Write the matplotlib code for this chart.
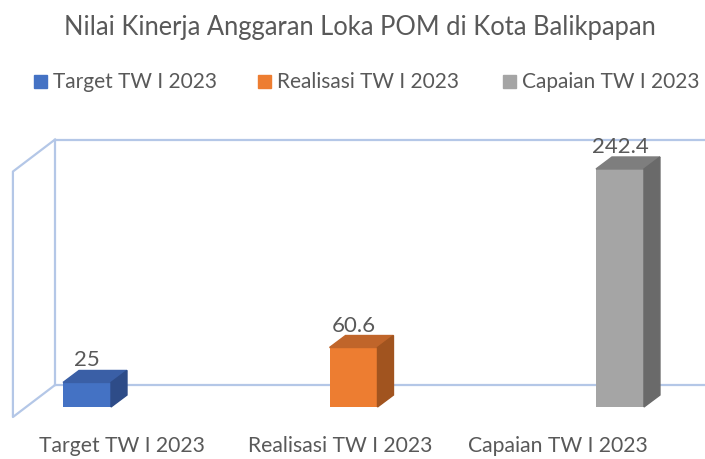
import matplotlib
matplotlib.use("Agg")
import matplotlib.pyplot as plt
from matplotlib.patches import Polygon, Rectangle

plt.rcParams['font.family'] = ['Lato', 'DejaVu Sans']

categories = ["Target TW I 2023", "Realisasi TW I 2023", "Capaian TW I 2023"]
values = [25, 60.6, 242.4]
front_colors = ["#4472C4", "#ED7D31", "#A5A5A5"]
top_colors = ["#3A5FA6", "#C0652A", "#7E7E7E"]
side_colors = ["#2E4C88", "#A1541F", "#6A6A6A"]
title = "Nilai Kinerja Anggaran Loka POM di Kota Balikpapan"
y_max = 250

text_color = "#595959"
wall_color = "#B4C7E7"

fig = plt.figure(figsize=(7.05, 4.6), dpi=100)
ax = fig.add_axes([0, 0, 1, 1])
ax.set_xlim(-0.3265, 2.319)
ax.set_ylim(-52.95, 415.5)
ax.axis("off")

# oblique 3d look: bar depth and wall depth
bar_w = 0.18
bdx, bdy = 0.06, 12.2
floor_x, floor_y = -0.278, -10.2
wdx, wdy = 0.158, 32.6
back_x, back_y = floor_x + wdx, floor_y + wdy

# walls
lw = 1.6
for gy in (0, y_max):
    ax.plot([back_x, 2.5], [back_y + gy, back_y + gy], color=wall_color, lw=lw, zorder=1)
ax.plot([back_x, back_x], [back_y, back_y + y_max], color=wall_color, lw=lw, zorder=1)
ax.plot([back_x, floor_x, floor_x, back_x],
        [back_y, floor_y, floor_y + y_max, back_y + y_max],
        color=wall_color, lw=lw, zorder=1)

xs = list(range(len(values)))
ax.bar(xs, values, width=bar_w, color=front_colors, zorder=3)
for x, v, tc, sc in zip(xs, values, top_colors, side_colors):
    l, r = x - bar_w / 2, x + bar_w / 2
    ax.add_patch(Polygon([(l, v), (r, v), (r + bdx, v + bdy), (l + bdx, v + bdy)],
                         closed=True, color=tc, zorder=3))
    ax.add_patch(Polygon([(r, 0), (r + bdx, bdy), (r + bdx, v + bdy), (r, v)],
                         closed=True, color=sc, zorder=3))
    ax.text(x, v + bdy + 1, f"{v:g}", ha="center", va="bottom",
            fontsize=16, color=text_color, zorder=4)

# category labels spread like the perspective axis
for i, c in enumerate(categories):
    ax.text(0.131 + 0.818 * i, -38.7, c, ha="center", va="center",
            fontsize=15.2, color=text_color)

fig.text(0.511, 1 - 27 / 460, title, ha="center", va="center",
         fontsize=18.4, color=text_color)

# legend
leg_x = [53, 277, 522]
for lx, c, col in zip(leg_x, categories, front_colors):
    fig.patches.append(Rectangle(((lx - 19) / 705, 1 - 89 / 460), 13 / 705, 13 / 460,
                                 transform=fig.transFigure, color=col))
    fig.text(lx / 705, 1 - 82 / 460, c, ha="left", va="center",
             fontsize=15, color=text_color)

fig.savefig("out.png", dpi=100)
